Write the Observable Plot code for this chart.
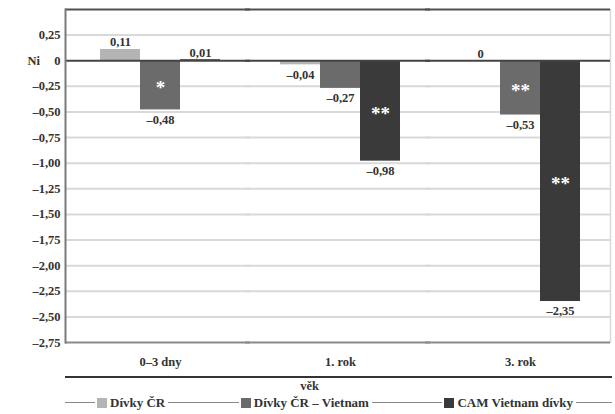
<!DOCTYPE html>
<html>
<head>
<meta charset="utf-8">
<script src="https://cdn.jsdelivr.net/npm/d3@7"></script>
<script src="https://cdn.jsdelivr.net/npm/@observablehq/plot@0.6"></script>
<style>
  body { margin: 0; background: #fff; font-family: "Liberation Serif", "Times New Roman", serif; color: #333; }
  #wrap { width: 615px; }
  #axisline { margin-left: 65px; width: 547px; border-top: 2px solid #333; }
  #xlabel { text-align: center; font-weight: bold; font-size: 12.5px; line-height: 16px; height: 16px; padding-left: 4px; }
  #legend { display: flex; align-items: center; margin-left: 65px; width: 547px; height: 17px; font-weight: bold; font-size: 13px; }
  #legend .ln { height: 1px; background: #888; }
  #legend .sw { width: 10px; height: 10px; margin: 0 3px 0 2px; }
  #legend .tx { margin-right: 3px; white-space: nowrap; }
</style>
</head>
<body>
<div id="wrap">
  <div id="chart"></div>
  <div id="axisline"></div>
  <div id="xlabel">věk</div>
  <div id="legend"></div>
</div>
<script>
const groups = ["0–3 dny", "1. rok", "3. rok"];
const series = ["Dívky ČR", "Dívky ČR – Vietnam", "CAM Vietnam dívky"];
const valuesCR = [0.11, -0.04, 0];
const valuesCRV = [-0.48, -0.27, -0.53];
const valuesCAM = [0.01, -0.98, -2.35];
const starsCR = ["", "", ""];
const starsCRV = ["*", "", "**"];
const starsCAM = ["", "**", "**"];
const yTicks = [0.25, 0, -0.25, -0.5, -0.75, -1, -1.25, -1.5, -1.75, -2, -2.25, -2.5, -2.75];
const gridTicks = [0.25, -0.25, -0.5, -0.75, -1, -1.25, -1.5, -1.75, -2, -2.25, -2.5];
const topTick = [0.5];
const bottomTick = [-2.75];
const colors = ["#b4b4b4", "#6b6b6b", "#3a3a3a"];

const allValues = [valuesCR, valuesCRV, valuesCAM];
const allStars = [starsCR, starsCRV, starsCAM];
const rows = [];
series.forEach((s, si) => groups.forEach((g, gi) => {
  rows.push({group: g, series: s, value: allValues[si][gi], stars: allStars[si][gi]});
}));

const fmt = v => v === 0 ? "0" : v.toFixed(2).replace(".", ",").replace("-", "–");

const chart = Plot.plot({
  width: 615,
  height: 376,
  marginLeft: 65,
  marginRight: 10,
  marginTop: 9,
  marginBottom: 34,
  style: {fontFamily: "Liberation Serif, Times New Roman, serif", fontSize: "12.5px", fontWeight: "bold", color: "#333", background: "#fff"},
  fx: {domain: groups, paddingInner: 0, paddingOuter: 0},
  x: {domain: series, paddingInner: 0, paddingOuter: 0.75, align: 0.5833, axis: null},
  y: {domain: [-2.75, 0.5]},
  color: {domain: series, range: colors},
  marks: [
    Plot.ruleY(gridTicks, {stroke: "#d9d9d9", strokeWidth: 2, insetRight: -5}),
    Plot.frame({anchor: "right", facetAnchor: "right", stroke: "#d9d9d9", strokeWidth: 1.5, dx: 5}),
    Plot.ruleY(topTick, {stroke: "#505050", strokeWidth: 2, insetRight: -5}),
    Plot.ruleY(bottomTick, {stroke: "#8a8a8a", strokeWidth: 2, insetRight: -5}),
    Plot.barY(rows, {fx: "group", x: "series", y: "value", fill: "series"}),
    Plot.ruleY([0], {stroke: "#444", strokeWidth: 2, insetRight: -5}),
    Plot.frame({anchor: "left", facetAnchor: "left", stroke: "#7a7a7a", strokeWidth: 2}),
    Plot.axisY({ticks: yTicks, tickSize: 0, tickPadding: 5, tickFormat: fmt, label: null}),
    Plot.axisFx({anchor: "bottom", tickSize: 0, tickPadding: 15, label: null, dx: 5, fontSize: 12.5}),
    Plot.text(["Ni"], {text: d => d, y: () => 0, frameAnchor: "left", dx: -38, facetAnchor: "left", fontSize: 12.5}),
    Plot.text(rows.filter(d => d.value >= 0), {fx: "group", x: "series", y: "value", text: d => fmt(d.value), lineAnchor: "bottom", dy: -3, fill: "#333", fontSize: 12.5}),
    Plot.text(rows.filter(d => d.value < 0), {fx: "group", x: "series", y: "value", text: d => fmt(d.value), lineAnchor: "top", dy: 5, fill: "#333", fontSize: 12.5}),
    Plot.text(rows.filter(d => d.stars), {fx: "group", x: "series", y: d => d.value / 2, text: "stars", fill: "white", fontSize: 19, dy: 3})
  ]
});
document.getElementById("chart").appendChild(chart);

const legend = document.getElementById("legend");
const addLine = (w) => { const l = document.createElement("div"); l.className = "ln"; if (w) l.style.width = w + "px"; else l.style.flex = "1"; legend.appendChild(l); };
addLine(30);
series.forEach((s, i) => {
  const sw = document.createElement("div"); sw.className = "sw"; sw.style.background = colors[i]; legend.appendChild(sw);
  const tx = document.createElement("span"); tx.className = "tx"; tx.textContent = s; legend.appendChild(tx);
  addLine(i === series.length - 1 ? 36 : null);
});
</script>
</body>
</html>
